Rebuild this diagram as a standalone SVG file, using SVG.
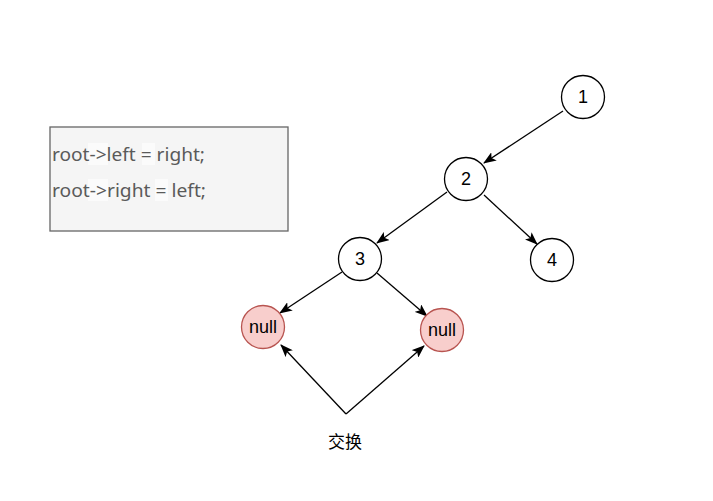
<svg xmlns="http://www.w3.org/2000/svg" width="713" height="501" viewBox="0 0 713 501">
  <style>
    .node circle { fill: #ffffff; stroke: #000000; stroke-width: 1.3; }
    .null circle { fill: #f8cecc; stroke: #b85450; stroke-width: 1.3; }
    .lbl { font-family: "Liberation Sans", Arial, sans-serif; font-size: 18px; fill: #000000; text-anchor: middle; dominant-baseline: central; }
    .code { font-family: "Noto Sans", "Liberation Sans", sans-serif; font-size: 18px; fill: #5a5a5a; }
    .hl { fill: #fbfbfb; }
    .edge { stroke: #000000; stroke-width: 1.3; fill: none; marker-end: url(#arr); }
  </style>
  <defs>
    <marker id="arr" viewBox="0 0 13 10" refX="12" refY="5" markerWidth="13" markerHeight="10" markerUnits="userSpaceOnUse" orient="auto">
      <path d="M0,0 L13,5 L0,10 L3,5 Z" fill="#000000"/>
    </marker>
  </defs>
  <rect width="713" height="501" fill="#ffffff"/>

  <g id="code-box">
    <rect x="50" y="127" width="238" height="104" fill="#f5f5f5" stroke="#666666" stroke-width="1.3"/>
    <rect class="hl" x="88" y="143" width="20" height="22"/>
    <rect class="hl" x="142" y="143" width="13" height="22"/>
    <rect class="hl" x="88" y="179" width="20" height="22"/>
    <rect class="hl" x="155" y="179" width="13" height="22"/>
    <text class="code" x="52" y="161" textLength="153" lengthAdjust="spacingAndGlyphs">root-&gt;left = right;</text>
    <text class="code" x="52" y="197" textLength="154" lengthAdjust="spacingAndGlyphs">root-&gt;right = left;</text>
  </g>

  <g id="connectors">
    <line class="edge" x1="563" y1="111" x2="484" y2="163"/>
    <line class="edge" x1="447" y1="192" x2="377" y2="243"/>
    <line class="edge" x1="484" y1="195" x2="537" y2="244"/>
    <line class="edge" x1="342" y1="272" x2="280" y2="313"/>
    <line class="edge" x1="377" y1="273" x2="427" y2="316"/>
    <polyline class="edge" points="346,414 281,345"/>
    <polyline class="edge" points="346,414 424,346"/>
  </g>

  <g id="node-1" class="node"><circle cx="583" cy="97" r="21.5"/><text class="lbl" x="583" y="97">1</text></g>
  <g id="node-2" class="node"><circle cx="466" cy="179" r="21.5"/><text class="lbl" x="466" y="179">2</text></g>
  <g id="node-3" class="node"><circle cx="360" cy="259" r="21.5"/><text class="lbl" x="360" y="259">3</text></g>
  <g id="node-4" class="node"><circle cx="552" cy="260" r="21.5"/><text class="lbl" x="552" y="260">4</text></g>
  <g id="null-left" class="null"><circle cx="263" cy="327" r="21.5"/><text class="lbl" x="263" y="327">null</text></g>
  <g id="null-right" class="null"><circle cx="442" cy="330" r="21.5"/><text class="lbl" x="442" y="330">null</text></g>

  <g id="swap-label">
    <text class="lbl" x="345" y="440" style="font-family: 'Noto Sans CJK SC', sans-serif; font-size: 17px;">交换</text>
  </g>
</svg>
